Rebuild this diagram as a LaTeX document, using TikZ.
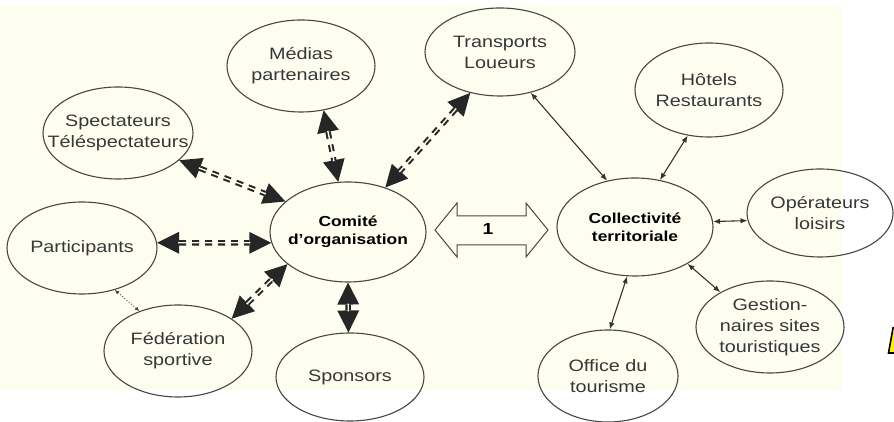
\documentclass[tikz,border=0pt]{standalone}
\usepackage{fontspec}
\setmainfont[FakeStretch=1.2]{Liberation Sans}
\usetikzlibrary{arrows.meta,shapes.geometric}
\definecolor{cream}{RGB}{254,254,240}
\definecolor{edge}{RGB}{70,70,70}
\definecolor{txt}{RGB}{55,55,55}
\begin{document}
\begin{tikzpicture}[x=1pt,y=1pt,
  ell/.style={ellipse, draw=edge, line width=1.1pt, inner sep=0pt},
  lbl/.style={align=center, text=txt, font=\fontsize{16.5}{21}\selectfont, inner sep=0pt},
  blbl/.style={align=center, text=black, font=\fontsize{14.5}{18}\selectfont\bfseries, inner sep=0pt},
  bigarrow/.style={{Triangle[length=22pt,width=22pt,line width=0pt]}-{Triangle[length=22pt,width=22pt,line width=0pt]},
     draw=black!85, line width=5.5pt, dash pattern=on 7pt off 6pt,
     postaction={draw=cream, line width=1.4pt, solid, -, shorten <=21pt, shorten >=21pt}},
  thinarrow/.style={{Latex[length=7pt,width=5.5pt]}-{Latex[length=7pt,width=5.5pt]}, draw=black!80, line width=1.1pt},
  dotarrow/.style={{Latex[length=4.5pt,width=4pt]}-{Latex[length=4.5pt,width=4pt]}, draw=black!75, line width=0.9pt, dotted}
]
\useasboundingbox (0,0) rectangle (894,422);
\fill[white] (0,0) rectangle (894,422);
\fill[cream] (0,32) rectangle (842,417);

% ellipses
\node[ell, minimum width=148pt, minimum height=92pt] (med) at (301,356) {};
\node[ell, minimum width=150pt, minimum height=88pt] (tra) at (500,370) {};
\node[ell, minimum width=148pt, minimum height=94pt] (hot) at (709,332) {};
\node[ell, minimum width=150pt, minimum height=92pt] (spe) at (118,289) {};
\node[ell, minimum width=150pt, minimum height=92pt] (par) at (82,174) {};
\node[ell, minimum width=148pt, minimum height=92pt] (fed) at (178,71) {};
\node[ell, minimum width=156pt, minimum height=100pt] (com) at (348,190) {};
\node[ell, minimum width=148pt, minimum height=88pt] (spo) at (350,45) {};
\node[ell, minimum width=156pt, minimum height=98pt] (col) at (635,195) {};
\node[ell, minimum width=146pt, minimum height=88pt] (ope) at (820,209) {};
\node[ell, minimum width=148pt, minimum height=92pt] (ges) at (770,95) {};
\node[ell, minimum width=140pt, minimum height=92pt] (off) at (608,46) {};

% labels
\node[lbl] (med-t) at (med) {Médias\\partenaires};
\node[lbl] (tra-t) at (tra) {Transports\\Loueurs};
\node[lbl] (hot-t) at (hot) {Hôtels\\Restaurants};
\node[lbl] (spe-t) at (spe) {Spectateurs\\Téléspectateurs};
\node[lbl] (par-t) at (par) {Participants};
\node[lbl] (fed-t) at (fed) {Fédération\\sportive};
\node[blbl] (com-t) at (com) {Comité\\d’organisation};
\node[lbl] (spo-t) at (spo) {Sponsors};
\node[blbl] (col-t) at (col) {Collectivité\\territoriale};
\node[lbl] (ope-t) at (ope) {Opérateurs\\loisirs};
\node[lbl] (ges-t) at (ges) {Gestion-\\naires sites\\touristiques};
\node[lbl] (off-t) at (off) {Office du\\tourisme};

% big double arrow
\draw[edge, line width=1pt, fill=cream] (435,192) -- (457,219) -- (457,206) -- (526,206) -- (526,219) -- (548,192)
   -- (526,165) -- (526,177) -- (457,177) -- (457,165) -- cycle;
\node[blbl, font=\fontsize{16}{18}\selectfont\bfseries] (one) at (488,193) {1};

% thick dashed connectors
\draw[bigarrow] (med.-63) -- (com.101);
\draw[bigarrow] (tra.234) -- (com.50);
\draw[bigarrow] (spe.-24) -- (com.154);
\draw[bigarrow] (par.4) -- (com.188);
\draw[bigarrow] (fed.31) -- (com.208);
\draw[bigarrow] (com.-90) -- (spo.92);

% thin connectors
\draw[thinarrow] (tra.-53) -- (col.121);
\draw[thinarrow] (hot.-115) -- (col.62);
\draw[thinarrow] (col.4) -- (ope.186);
\draw[thinarrow] (col.-35) -- (ges.145);
\draw[thinarrow] (col.-99) -- (off.88);
\draw[dotarrow] (par.-52) -- (fed.134);

% yellow corner
\fill[yellow] (893,94) -- (888.5,69) -- (894,69) -- (894,94) -- cycle;
\draw[black, line width=1.6pt] (893.2,95) -- (888.5,69) -- (894,69);
\end{tikzpicture}
\end{document}
